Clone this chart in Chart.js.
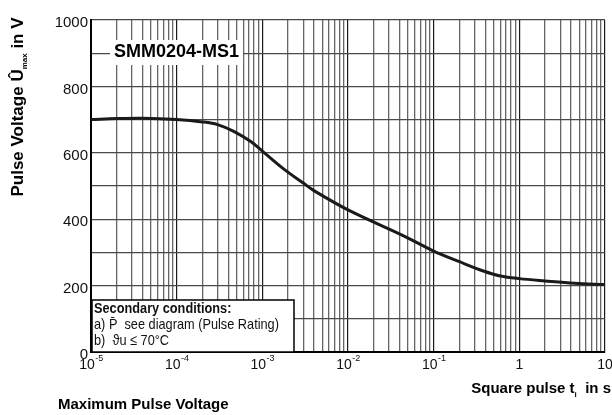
<!DOCTYPE html>
<html lang="en">
<head>
    <meta charset="UTF-8">
    <title>Maximum Pulse Voltage</title>
    <style>
        body {
            margin: 0;
            background-color: #fff;
        }
        .chart-container {
            width: 612px;
            height: 415px;
            position: relative;
        }
    </style>
</head>
<body>
    <div class="chart-container">
        <canvas id="pulseChart" width="612" height="415"></canvas>
    </div>

    <script src="https://cdn.jsdelivr.net/npm/chart.js"></script>

    <script>
        // values
        const pulseTimes = [1e-5, 2e-5, 4e-5, 1e-4, 2e-4, 3e-4, 4.7e-4, 7.4e-4, 1e-3, 1.8e-3, 3e-3, 4e-3,
                            1e-2, 4.7e-2, 1e-1, 2e-1, 3.8e-1, 6e-1, 1, 2, 4.4, 10];
        const maxVoltage = [700, 703, 704, 700, 693, 685, 664, 633, 605, 550, 509, 486,
                            428, 347, 304, 272, 244, 229, 221, 214, 207, 203];

        const decadeExponents = [-5, -4, -3, -2, -1, 0, 1];
        const xTickLabels = [['10', '-5'], ['10', '-4'], ['10', '-3'], ['10', '-2'], ['10', '-1'], ['1', ''], ['10', '']];
        const yTickLabels = [0, 200, 400, 600, 800, 1000];
        const yGridStep = 100;

        const seriesName = 'SMM0204-MS1';
        const conditionLines = ['Secondary conditions:', 'a) P\u0304  see diagram (Pulse Rating)', 'b)  \u03D1u \u2264 70\u00B0C'];

        const FONT = "'Liberation Sans', Arial, Helvetica, sans-serif";

        // gridlines at 1..9 per decade
        const gridValues = [];
        decadeExponents.slice(0, -1).forEach(e => {
            for (let m = 1; m <= 9; m++) gridValues.push(Number((m * Math.pow(10, e)).toPrecision(3)));
        });
        gridValues.push(Math.pow(10, decadeExponents[decadeExponents.length - 1]));

        function isDecade(v) {
            const l = Math.log10(v);
            return Math.abs(l - Math.round(l)) < 1e-6;
        }

        const annotations = {
            id: 'annotations',
            afterDraw(chart) {
                const ctx = chart.ctx;
                const x = chart.scales.x;
                const area = chart.chartArea;
                ctx.save();

                // x tick labels with superscript exponent
                decadeExponents.forEach((e, i) => {
                    const px = x.getPixelForValue(Math.pow(10, e));
                    const [base, exp] = xTickLabels[i];
                    ctx.font = '14px ' + FONT;
                    const wb = ctx.measureText(base).width;
                    ctx.font = '9px ' + FONT;
                    const we = ctx.measureText(exp).width;
                    const left = px - (wb + we) / 2;
                    ctx.fillStyle = '#111';
                    ctx.textBaseline = 'alphabetic';
                    ctx.textAlign = 'left';
                    ctx.font = '14px ' + FONT;
                    ctx.fillText(base, left, area.bottom + 17);
                    ctx.font = '9px ' + FONT;
                    ctx.fillText(exp, left + wb + 0.5, area.bottom + 9);
                });

                // series name box
                ctx.font = 'bold 18px ' + FONT;
                const nameW = ctx.measureText(seriesName).width;
                ctx.fillStyle = '#fff';
                ctx.fillRect(110, 40, nameW + 8, 25);
                ctx.fillStyle = '#000';
                ctx.textBaseline = 'middle';
                ctx.fillText(seriesName, 114, 52);

                // secondary conditions box
                const bx = area.left + 1, by = 300, bw = 202, bh = area.bottom - 300;
                ctx.fillStyle = '#fff';
                ctx.fillRect(bx, by, bw, bh);
                ctx.strokeStyle = '#000';
                ctx.lineWidth = 1.5;
                ctx.strokeRect(bx, by, bw, bh);
                ctx.fillStyle = '#111';
                ctx.textBaseline = 'middle';
                conditionLines.forEach((line, i) => {
                    ctx.save();
                    ctx.translate(bx + 2, by + 9 + i * 16);
                    ctx.scale(0.85, 1);
                    ctx.font = (i === 0 ? 'bold ' : '') + '15px ' + FONT;
                    ctx.fillText(line, 0, 0);
                    ctx.restore();
                });

                // y axis title, rotated, with subscript
                ctx.save();
                ctx.translate(23, 107);
                ctx.rotate(-Math.PI / 2);
                ctx.fillStyle = '#000';
                ctx.textBaseline = 'alphabetic';
                const parts = [['Pulse Voltage \u00DB', 'bold 17px', 0], ['max', 'bold 8px', 4], [' in V', 'bold 17px', 0]];
                let total = 0;
                parts.forEach(p => { ctx.font = p[1] + ' ' + FONT; total += ctx.measureText(p[0]).width; });
                let cx = -total / 2;
                parts.forEach(p => {
                    ctx.font = p[1] + ' ' + FONT;
                    ctx.fillText(p[0], cx, p[2]);
                    cx += ctx.measureText(p[0]).width;
                });
                ctx.restore();

                // x axis title, right aligned
                const xparts = [['Square pulse t', 'bold 15px', 0], ['i', 'bold 8px', 4], ['  in s', 'bold 15px', 0]];
                let xt = 0;
                xparts.forEach(p => { ctx.font = p[1] + ' ' + FONT; xt += ctx.measureText(p[0]).width; });
                let sx = 611 - xt;
                ctx.textAlign = 'left';
                ctx.textBaseline = 'alphabetic';
                ctx.fillStyle = '#000';
                xparts.forEach(p => {
                    ctx.font = p[1] + ' ' + FONT;
                    ctx.fillText(p[0], sx, 393 + p[2]);
                    sx += ctx.measureText(p[0]).width;
                });

                // caption
                ctx.font = 'bold 15px ' + FONT;
                ctx.fillText('Maximum Pulse Voltage', 58, 409);

                ctx.restore();
            }
        };

        new Chart(document.getElementById('pulseChart'), {
            type: 'line',
            data: {
                datasets: [{
                    label: seriesName,
                    data: pulseTimes.map((t, i) => ({ x: t, y: maxVoltage[i] })),
                    borderColor: '#1a1a1a',
                    borderWidth: 3,
                    pointRadius: 0,
                    tension: 0.35,
                    fill: false
                }]
            },
            options: {
                responsive: false,
                animation: false,
                layout: { padding: { top: 20, right: 7, left: 0, bottom: 0 } },
                plugins: {
                    legend: { display: false },
                    tooltip: { enabled: false }
                },
                scales: {
                    x: {
                        type: 'logarithmic',
                        min: 1e-5,
                        max: 10,
                        afterBuildTicks: scale => { scale.ticks = gridValues.map(v => ({ value: v })); },
                        afterFit: scale => { scale.height = 63; },
                        ticks: { display: false },
                        grid: {
                            drawTicks: false,
                            color: ctx => (ctx.tick && isDecade(ctx.tick.value)) ? '#1a1a1a' : '#666',
                            lineWidth: ctx => (ctx.tick && isDecade(ctx.tick.value)) ? 1.2 : 1.3
                        },
                        border: { display: true, color: '#000', width: 2 }
                    },
                    y: {
                        min: 0,
                        max: 1000,
                        afterFit: scale => { scale.width = 91; },
                        ticks: {
                            stepSize: yGridStep,
                            padding: 3,
                            labelOffset: 3,
                            color: '#111',
                            font: { family: FONT, size: 15 },
                            callback: v => yTickLabels.includes(v) ? String(v) : ''
                        },
                        grid: { drawTicks: false, color: '#4a4a4a', lineWidth: 1.3 },
                        border: { display: true, color: '#000', width: 2 }
                    }
                }
            },
            plugins: [annotations]
        });
    </script>
</body>
</html>
